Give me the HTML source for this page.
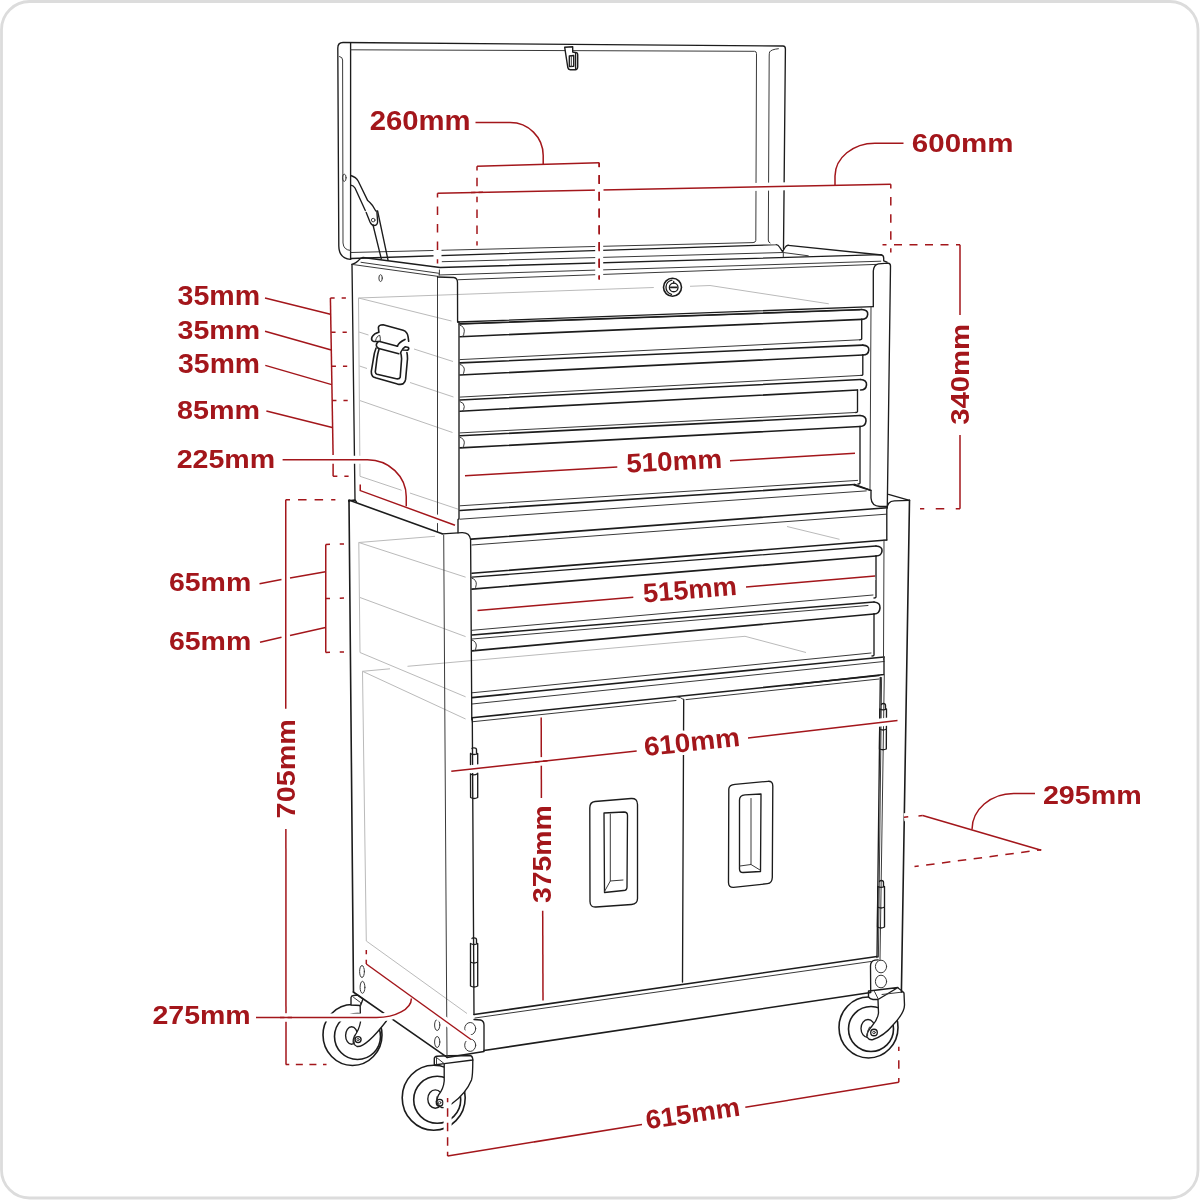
<!DOCTYPE html>
<html><head><meta charset="utf-8"><title>Tool Chest Dimensions</title>
<style>
html,body{margin:0;padding:0;background:#fff;width:1200px;height:1200px;overflow:hidden}
svg{display:block}
.k{stroke:#1c1c1c;stroke-width:1.35;fill:none;stroke-linecap:round;stroke-linejoin:round}
.kb{stroke:#1c1c1c;stroke-width:1.6;fill:none;stroke-linecap:round;stroke-linejoin:round}
.kt{stroke:#3a3a3a;stroke-width:1.0;fill:none;stroke-linecap:round;stroke-linejoin:round}
.kw{stroke:#1c1c1c;stroke-width:1.4;fill:#fff;stroke-linecap:round;stroke-linejoin:round}
.g{stroke:#bababa;stroke-width:1.0;fill:none}
.r{stroke:#a3161b;stroke-width:1.5;fill:none}
.rd{stroke:#a3161b;stroke-width:1.5;fill:none;stroke-dasharray:11 6}
.t{font-family:"Liberation Sans",sans-serif;font-weight:bold;font-size:26.6px;fill:#a3161b}
</style></head><body>
<svg width="1200" height="1200" viewBox="0 0 1200 1200">
<rect x="1.5" y="1.5" width="1196.5" height="1196.5" rx="28" ry="28" fill="#fff" stroke="#dcdcdc" stroke-width="2.8"/>
<!-- 05_casters.svg -->
<!-- rear-left caster -->
<ellipse class="kb" cx="352.5" cy="1035" rx="29.5" ry="30.5"/>
<circle class="kb" cx="357.5" cy="1036.5" r="23"/>
<ellipse class="k" cx="351.6" cy="1035.5" rx="6" ry="8.8"/>
<path d="M360,1000 L360,1022 Q359,1030 354.5,1036 Q351,1044 357,1046.5 Q366,1047.5 386.4,1021 L393,1016 L372,1002 Z" fill="#fff" stroke="none"/>
<path class="k" d="M360.2,1006 L360.5,1022 Q359,1030 354.5,1036 Q351,1044 357,1046.5 Q366,1047.5 386.4,1021 L388.3,1015.5"/>
<path class="kt" d="M354.6,1044.5 Q352.8,1040 355,1035.5"/>
<circle class="k" cx="358.1" cy="1039.6" r="3"/>
<circle class="kt" cx="358.1" cy="1039.6" r="1.2"/>
<path class="kw" d="M351,1005 L351,997.5 Q351.3,995.7 353.5,995.5 L357.5,995 L363,999 L360.5,1005.5 Z"/>
<path class="kt" d="M353.5,997.3 L360.5,1002.5 L360.5,1005.5"/>
<!-- front-left caster -->
<ellipse class="kb" cx="433.7" cy="1097.7" rx="31.5" ry="32.5"/>
<circle class="kb" cx="437.2" cy="1099.7" r="23.5"/>
<ellipse class="k" cx="435.3" cy="1099" rx="7.5" ry="9.2"/>
<path d="M444.2,1058 L444.2,1081 Q443.5,1089 438.5,1095 Q434,1104 441.5,1107.5 Q446.5,1108.5 451.8,1103.8 Q466,1093.5 471.5,1080 Q472.8,1076 472.8,1058 Z" fill="#fff" stroke="none"/>
<path class="k" d="M444.2,1063.6 L444.2,1081 Q443.5,1089 438.5,1095 Q434,1104 441.5,1107.5 Q446.5,1108.5 451.8,1103.8 Q466,1093.5 471.5,1080 Q472.8,1076 472.8,1060"/>
<path class="kt" d="M437.5,1106 Q435,1102 437,1096.5"/>
<circle class="k" cx="439.6" cy="1102.7" r="3.3"/>
<circle class="kt" cx="439.6" cy="1102.7" r="1.3"/>
<path class="kw" d="M434.3,1065 L434.3,1058.5 Q434.5,1056.5 437,1056.2 L447,1055.8 L470,1055.5 Q472.8,1056 472.8,1060 L444.2,1063.6 Z"/>
<path class="kt" d="M436.5,1057.5 L444.2,1063.6 M436.5,1064 L436.5,1058"/>
<!-- right caster -->
<ellipse class="kb" cx="868.5" cy="1027.5" rx="29.5" ry="30.5"/>
<circle class="kb" cx="871" cy="1029" r="22.5"/>
<ellipse class="k" cx="868" cy="1028.5" rx="7" ry="9"/>
<path d="M878,997 L878.5,1013 Q877.5,1020 872,1026 Q866,1033 867,1037 Q869,1040.5 873,1039.5 Q884,1036 893,1025 Q904.5,1013 904.5,1005 L904,993 Q902,990.5 898,988 Z" fill="#fff" stroke="none"/>
<path class="k" d="M878,999.5 L878.5,1013 Q877.5,1020 872,1026 Q866,1033 867,1037 Q869,1040.5 873,1039.5 Q884,1036 893,1025 Q904.5,1013 904.5,1005 L904,993 Q902,990.5 898,988"/>
<path class="kt" d="M867.5,1036 Q866.5,1031 869.5,1027"/>
<circle class="k" cx="874" cy="1032.5" r="3.3"/>
<circle class="kt" cx="874" cy="1032.5" r="1.3"/>
<path class="kw" d="M868.5,991 L868.5,997 Q870,999 873,999.5 L878,999.5 L898,987.5 L869,991 Z"/>
<path class="kt" d="M874.5,991.5 L878.5,999.5 M882,994.5 L903,992"/>

<!-- 10_lid.svg -->
<path class="k" d="M350.6,259.4 Q339,258.5 338.8,246 L337.8,48 Q337.8,42.5 343,42.5 L783,46 Q785.4,46.1 785.4,49 L783.5,249"/>
<line class="k" x1="350.6" y1="43" x2="350.6" y2="259.4"/>
<path class="kt" d="M339.5,56.5 Q342.6,57 342.6,60 L343,243 Q343.5,250 350.6,250.5"/>
<path class="kt" d="M350.6,49.8 L754.5,51.3 Q756.5,51.4 756.5,53.5 L755.8,240.5 Q755.6,242.5 753,242.6 L351.2,252.5"/>
<path class="kt" d="M778.4,48.7 Q771,49.5 769.6,52 Q769.2,53.5 769.2,56 L768.3,240 Q768.3,242.5 770,243"/>
<path class="k" d="M351,258.5 L775.8,244.7 Q778,244.5 779.5,247 L782.5,251.7 L785,247.5 Q786.3,245.2 788.3,245.3"/>
<ellipse class="kt" cx="344.3" cy="177.8" rx="1.8" ry="3.6"/>
<path class="k" d="M350.7,175.5 Q356,177 358.3,181.3 L367.7,200.6 Q370.5,203 372.3,205.2 L375.8,211"/>
<path class="k" d="M350.7,185.1 Q353.5,185.5 355,188 L365.3,210.5"/>
<path class="k" d="M366.2,212.5 L370,222 Q371.5,225.5 374.5,225.5 Q377.8,225 377.6,221 L376.8,211"/>
<circle class="kt" cx="373.2" cy="220.1" r="1.8"/>
<line class="k" x1="373" y1="225" x2="381.3" y2="258.8"/>
<line class="k" x1="377.6" y1="211" x2="388" y2="260"/>

<!-- 12_latch.svg -->
<path class="kw" d="M564.7,47.3 L572.7,46.7 L572.7,52 L576.5,52.7 Q577.7,53 577.7,54.5 L577.7,67 Q577.5,69.7 575.3,69.7 L570.3,69.7 Q568.2,69.5 567.8,67.5 Z"/>
<path class="k" d="M569.3,56 L573.7,55.5 L573.7,66.3 L569.3,66.5 Z M575.6,53.5 L575.6,68.5"/>
<path class="kt" d="M571.3,56 L571.3,66.4"/>

<!-- 15_gray.svg -->
<path class="g" d="M358.5,298 L360,476.3 L458.5,509.3"/>
<path class="g" d="M358.5,298 L653.8,287.5 M690,286.3 L710,285.5 L828.8,303.8"/>
<path class="g" d="M358.5,298 L451.5,321"/>
<path class="g" d="M359,332 L368.5,335 M414,349 L453,361.5"/>
<path class="g" d="M359.5,366 L367,368.5 M410,382.5 L453.5,397"/>
<path class="g" d="M360,400.6 L452.5,432.5"/>
<path class="g" d="M358.8,542.5 L435,536.3"/>
<path class="g" d="M358.8,542.5 L360,652.5"/>
<path class="g" d="M358.8,542.5 L465.6,577.2"/>
<path class="g" d="M360,597.5 L465.6,636.6"/>
<path class="g" d="M360,652.5 L465.6,696.8"/>
<path class="g" d="M362.5,671.3 L390,668.8 M407.5,666.3 L745,636.3 L806,652.5"/>
<path class="g" d="M362.5,671.3 L366.3,941 L467,1013.5"/>
<path class="g" d="M362.5,671.3 L465.6,719"/>
<path class="g" d="M787,526.5 L839.5,539.3"/>

<!-- 20_topchest.svg -->
<!-- top surface -->
<path class="k" d="M352,264.4 Q356,263 358,261 Q360,258 363,257.5 L440,267.5 L880.8,254.7 Q883.7,255.3 883.7,258 L883.7,260.8 L887,262.2"/>
<path class="k" d="M788.3,245.3 L881.7,255"/>
<path class="kt" d="M442,261.7 L783.3,252.5 L808.3,255.8"/>
<line class="kt" x1="783.3" y1="251.7" x2="783.3" y2="256.7"/>
<path class="kt" d="M352,264.4 L437.5,276.3"/>
<path class="kt" d="M361,262.3 L439,273.3"/>
<line class="kt" x1="439.4" y1="270" x2="439.4" y2="275"/>
<line class="kt" x1="438.7" y1="275" x2="880.8" y2="261.2"/>
<!-- side panel -->
<line class="k" x1="352" y1="264.4" x2="355" y2="500"/>
<line class="kt" x1="437.5" y1="276.3" x2="437.5" y2="531.5"/>
<ellipse class="kt" cx="380.6" cy="278.1" rx="1.7" ry="3.4"/>
<!-- left front column -->
<path class="k" d="M437.5,277 L453.75,277.5 Q457.5,278 457.5,282.5 L457.6,321.75 L459,322 L459,518.7 L458,519.5 L458,532.7"/>
<!-- lock panel -->
<line class="kt" x1="458" y1="279.75" x2="876" y2="264.4"/>
<line class="k" x1="457.6" y1="322" x2="873.3" y2="306.6"/>
<line class="kt" x1="459" y1="324.3" x2="860" y2="310"/>
<circle class="kb" cx="672.5" cy="287.2" r="9"/>
<path class="k" d="M672,280.2 A7.2,7.2 0 0,0 671.5,294.3"/>
<circle class="k" cx="673.7" cy="287.4" r="4.3"/>
<path class="kb" d="M670.8,287.4 L676.6,287.4"/>
<path class="k" d="M673.7,281.4 L673.7,283"/>
<!-- right column -->
<path class="k" d="M873.3,306.6 L873.3,271 Q873.8,264.5 878.5,263.8 L888,263.2 Q890.5,263.5 890.5,266 L887.3,506.5 L880,506.5 Q871.5,506 871,498 L871,490.5 L854,485"/>
<line class="kt" x1="871" y1="307" x2="870" y2="489"/>

<!-- 25_handle.svg -->
<path class="kb" d="M378.8,331.9 L378.4,327.5 Q378.6,324.8 383.1,324.7 L403.1,330.3 Q407.5,331.8 408.1,336.9 L408.7,341.3"/>
<path class="kb" d="M378.8,332.2 Q374.2,333.4 372.2,336.6 Q370.8,339.5 372.5,340.8 Q374,341.8 377.5,341.5"/>
<path class="kt" d="M375.6,340.5 Q376.5,336 379.8,335.3 Q380.6,338 380.3,341.2"/>
<path class="kb" d="M378.8,341.3 L397.5,346.3 M378.8,348.4 L398.8,353.8 M378.8,341.3 Q375.5,343.5 376.6,346.4 Q377.3,348.2 378.8,348.4"/>
<path class="kb" d="M397.3,346.3 Q398.8,342.2 405,339.4 M400.8,352.3 Q402,348.5 405.3,346.7 L408.5,347.6 Q409.3,349.2 407.5,350.2 L402.8,350"/>
<path class="kb" d="M376,348.2 Q374,353 373.4,358.8 L371.3,371.3 Q371.3,375.8 373.5,377 L376.3,378.1 L397.5,384.1 Q401.5,384.8 403.1,383.8 Q405.3,382 405.6,379.4 L407.5,358.8 Q407.4,354 406.9,352.5"/>
<path class="kb" d="M379,349.2 Q377.7,353.5 376.9,358.8 L375.3,371.9 Q375.5,373.8 377,374.3 L396.3,378.8 Q399.5,379.3 400.2,377.2 L401.6,358.8 Q401.5,355 400.6,352.8"/>
<ellipse class="kt" cx="362" cy="971.5" rx="2.4" ry="6"/>
<ellipse class="kt" cx="362.5" cy="987.3" rx="2.4" ry="6"/>
<ellipse class="kt" cx="437.2" cy="1025" rx="2.6" ry="5.5"/>
<ellipse class="kt" cx="437.2" cy="1042" rx="2.6" ry="5.5"/>

<!-- 30_drawers.svg -->
<line class="kb" x1="460.0" y1="323.7" x2="861.7" y2="309.5"/>
<path class="kb" d="M861.7,309.5 Q868.2,310.0 867.7,314.4 Q867.2,319.4 861.7,319.4"/>
<line class="kb" x1="460.0" y1="336.7" x2="861.7" y2="319.4"/>
<path class="k" d="M861.7,319.4 L861.7,337.8 Q862.2,339.8 859.7,339.8"/>
<line class="kt" x1="460.0" y1="359.6" x2="859.7" y2="339.8"/>
<path class="kt" d="M460.0,325.2 Q464.5,326.7 464.3,331.2 Q464.0,335.7 462.5,336.7"/>
<line class="kb" x1="460.0" y1="362.9" x2="862.8" y2="345.1"/>
<path class="kb" d="M862.8,345.1 Q869.3,345.6 868.8,350.1 Q868.3,355.0 862.8,355.0"/>
<line class="kb" x1="460.0" y1="375.0" x2="862.8" y2="355.0"/>
<path class="k" d="M862.8,355.0 L862.8,373.4 Q863.3,375.4 860.8,375.4"/>
<line class="kt" x1="460.0" y1="397.1" x2="860.8" y2="375.4"/>
<path class="kt" d="M460.0,364.4 Q464.5,365.9 464.3,369.9 Q464.0,374.0 462.5,375.0"/>
<line class="kb" x1="460.0" y1="400.0" x2="860.5" y2="379.5"/>
<path class="kb" d="M860.5,379.5 Q867.0,380.0 866.5,384.8 Q866.0,390.0 860.5,390.0"/>
<line class="kb" x1="460.0" y1="411.2" x2="857.5" y2="390.0"/>
<path class="k" d="M857.5,390.0 L857.5,410.5 Q858.0,412.5 855.5,412.5"/>
<line class="kt" x1="460.0" y1="432.9" x2="855.5" y2="412.5"/>
<path class="kt" d="M460.0,401.5 Q464.5,403.0 464.3,406.6 Q464.0,410.2 462.5,411.2"/>
<line class="kb" x1="460.0" y1="435.8" x2="860.0" y2="415.5"/>
<path class="kb" d="M860.0,415.5 Q866.5,416.0 866.0,421.0 Q865.5,426.5 860.0,426.5"/>
<line class="kb" x1="460.0" y1="447.9" x2="860.0" y2="426.5"/>
<path class="k" d="M860.0,426.5 L860.0,482.0 Q860.5,484.0 858.0,484.0"/>
<path class="kt" d="M460.0,437.3 Q464.5,438.8 464.3,442.9 Q464.0,446.9 462.5,447.9"/>
<line class="kb" x1="460.0" y1="510.5" x2="854.7" y2="484.5"/>
<line class="k" x1="854.7" y1="484.5" x2="871.0" y2="490.3"/>
<line class="kt" x1="460.0" y1="519.2" x2="866.3" y2="490.9"/>
<line class="kt" x1="460.0" y1="505.8" x2="857.6" y2="480.4"/>
<line class="kb" x1="471.3" y1="539.1" x2="887.3" y2="507.8"/>
<line class="kt" x1="472.0" y1="545.0" x2="886.2" y2="514.2"/>
<line class="kb" x1="472.0" y1="573.3" x2="886.7" y2="540.0"/>
<line class="k" x1="472.0" y1="577.2" x2="876.0" y2="546.0"/>
<path class="kb" d="M876.0,546.0 Q882.5,546.5 882.0,551.0 Q881.5,556.0 876.0,556.0"/>
<line class="kb" x1="472.0" y1="589.1" x2="876.0" y2="556.0"/>
<path class="k" d="M876.0,556.0 L876.0,596.0 Q876.5,598.0 874.0,598.0"/>
<line class="kt" x1="472.0" y1="630.3" x2="873.0" y2="595.0"/>
<path class="kt" d="M472.0,578.2 Q476.5,579.7 476.3,584.2 Q476.0,588.1 474.5,589.1"/>
<line class="kb" x1="472.0" y1="635.0" x2="874.0" y2="602.0"/>
<line class="kt" x1="472.0" y1="639.0" x2="868.0" y2="605.5"/>
<path class="kb" d="M874.0,602.0 Q880.5,602.5 880.0,608.0 Q879.5,614.0 874.0,614.0"/>
<line class="kb" x1="472.0" y1="650.9" x2="874.0" y2="614.0"/>
<path class="k" d="M874.0,614.0 L874.0,654.0 Q874.5,656.0 872.0,656.0"/>
<line class="kt" x1="472.0" y1="692.8" x2="871.0" y2="653.0"/>
<path class="kt" d="M472.0,640.0 Q476.5,641.5 476.3,646.0 Q476.0,649.9 474.5,650.9"/>
<line class="kb" x1="472.0" y1="697.6" x2="884.0" y2="657.0"/>
<line class="kt" x1="472.0" y1="704.0" x2="884.0" y2="661.5"/>
<path class="k" d="M884,657 L884,674.5 L790,685"/>
<line class="kb" x1="472.0" y1="717.8" x2="879.0" y2="675.5"/>
<line class="kt" x1="472.0" y1="721.8" x2="676.0" y2="700.5"/>
<line class="kt" x1="686.0" y1="699.6" x2="879.0" y2="679.0"/>

<!-- 40_lowercab.svg -->
<!-- side panel -->
<path class="kb" d="M349,501.5 L349.5,500.3 L442.2,533.8"/>
<path class="k" d="M348.6,500.6 L355,500 L356.5,502"/>

<line class="kb" x1="349" y1="500" x2="353.5" y2="992"/>
<line class="kb" x1="353.3" y1="992" x2="447.2" y2="1057.3"/>
<line class="kt" x1="443.7" y1="535" x2="447" y2="1057"/>
<!-- left front column -->
<path class="k" d="M442.2,533.8 L462,532.7 Q469.5,532.5 470.6,539.5 L471.8,720"/>
<!-- right front column -->
<path class="k" d="M886.8,540 L886.8,510 Q887,501 894.3,500.8 L909.5,500.3"/>
<line class="kb" x1="909.5" y1="500.3" x2="901.4" y2="992"/>
<line class="k" x1="888.5" y1="494.4" x2="909.5" y2="500.3"/>
<line class="kt" x1="884" y1="540" x2="883.5" y2="660"/>
<line class="kt" x1="884.3" y1="675" x2="880" y2="960"/>
<!-- doors -->
<line class="k" x1="472.3" y1="718" x2="474" y2="1014.5"/>
<line class="k" x1="683.7" y1="699.3" x2="682.5" y2="982"/>
<path class="kt" d="M676,696.7 Q681,697 683.7,699.6"/>
<path class="k" d="M880.3,677.5 L877,957.5"/>
<line class="kt" x1="881.6" y1="677.5" x2="878.4" y2="957"/>
<!-- door bottoms / base rail -->
<line class="kb" x1="474" y1="1014.5" x2="877" y2="956.5"/>
<line class="kt" x1="475" y1="1018" x2="871" y2="961.5"/>
<line class="kb" x1="484" y1="1050.5" x2="870.7" y2="992.5"/>
<!-- left corner post -->
<path class="k" d="M474,1019.5 L480.5,1020 Q484,1021 484,1025 L484,1051.5 L447,1057.5"/>
<ellipse class="kt" cx="470.2" cy="1028.7" rx="5.5" ry="6.2"/>
<ellipse class="kt" cx="470.2" cy="1045.2" rx="5.5" ry="6.2"/>
<!-- left door hinges -->
<path class="k" d="M472,748.5 Q472,747.8 474,747.8 Q476.3,747.8 476.5,749.5 L476.5,753 M470.5,753.5 Q474,755.5 477.7,753.5 L477.7,764.5 M470.5,753.5 L470.5,765.5 M470.5,773 L470.6,797.5 Q474,799.5 477.7,797.5 L477.7,773 M470.5,774 Q474,776 477.7,773.5"/>
<path class="k" d="M472,938.5 Q472,937.8 474,937.8 Q476.3,937.8 476.5,939.5 L476.5,943 M470.5,943.5 Q474,945.5 477.7,943.5 L477.7,986 Q474,988 470.5,986 Z M470.5,962 Q474,964 477.7,962"/>
<!-- right door hinges -->
<path class="k" d="M881.5,704.5 Q881.5,703.5 883.3,703.5 Q885.5,703.5 885.5,705.5 L885.5,708.5 M879.8,709 Q883,710.8 886.5,709 L886.3,749 Q883,750.5 879.5,749 Z M879.7,729 Q883,731 886.4,729"/>
<path class="k" d="M879.5,881.5 Q879.5,880.5 881.3,880.5 Q883.5,880.5 883.5,882.5 L883.5,886 M877.8,886.5 Q881,888.3 884.5,886.5 L884.5,927 Q881,929 877.5,927 Z M877.8,907 Q881,909 884.5,907"/>
<!-- right corner post -->
<path class="k" d="M878,959.8 L875,960.2 Q870.5,961 870.5,966 L870.7,991.5"/>
<ellipse class="kt" cx="881" cy="966.5" rx="5.6" ry="6.3"/>
<ellipse class="kt" cx="881" cy="981.5" rx="5.6" ry="6.3"/>
<!-- door handles -->
<path class="k" d="M595,801.5 L631,798.5 Q637.5,798 637.5,804.5 L637.5,898.5 Q637.5,904 631.5,904.5 L596,907 Q590,907.5 590,901.5 L589.8,808 Q589.8,802 595,801.5 Z"/>
<path class="k" d="M604,813 L624,812 Q627.5,812 627.5,815.5 L627,887 Q627,890.5 623.5,890.5 L604.5,892.5 Z"/>
<path class="kt" d="M610.3,814 L610.3,881 L604.5,891.5 M610.3,881 L623,880"/>
<path class="k" d="M735,784.3 L768,781.3 Q772.8,781 772.8,786 L772.3,877.5 Q772,883.2 767.5,883.7 L733.5,887.3 Q728.5,887.5 728.5,882.5 L728.8,789 Q729,784.8 735,784.3 Z"/>
<path class="k" d="M745,794.8 L761,794 L760.5,871.5 L743,872.5 Q739.5,872.5 739.5,869 L739.5,800 Q739.5,795.2 745,794.8 Z"/>
<path class="kt" d="M751,798.5 L751,864.5 L740,866 M751,864.5 L760,870"/>

<!-- 90_red.svg -->
<g>
<text class="t" transform="translate(370.80,129.50) rotate(0.0) scale(1.1010,1.0046) translate(-1.02,0)" stroke="#fff" stroke-width="5.4" stroke-linejoin="round">260mm</text>
<path d="M475.5,122.5 L510,122.5 A33,33 0 0,1 543.2,155.5 L543.2,164.4" stroke="#fff" stroke-width="8" fill="none" stroke-linecap="butt"/>
<path d="M477,166.2 L599.2,162.8" stroke="#fff" stroke-width="8" fill="none" stroke-linecap="butt"/>
<path d="M477,166.2 L477,245.5" stroke="#fff" stroke-width="8" fill="none"/>
<path d="M599.2,162.8 L599.2,279.5" stroke="#fff" stroke-width="8" fill="none"/>
<text class="t" transform="translate(913.00,151.60) rotate(0.0) scale(1.1100,0.9992) translate(-1.02,0)" stroke="#fff" stroke-width="5.4" stroke-linejoin="round">600mm</text>
<path d="M903.5,143.2 L875,143.2 A40,33 0 0,0 835,176 L835,185.5" stroke="#fff" stroke-width="8" fill="none" stroke-linecap="butt"/>
<path d="M437.5,193.2 L890.8,184.3" stroke="#fff" stroke-width="8" fill="none" stroke-linecap="butt"/>
<path d="M437.5,193.2 L437.5,263.4" stroke="#fff" stroke-width="8" fill="none"/>
<path d="M890.8,184.3 L890.8,252.5" stroke="#fff" stroke-width="8" fill="none"/>
<path d="M882.5,244.8 L960,244.8" stroke="#fff" stroke-width="8" fill="none"/>
<path d="M960,244.8 L960,315" stroke="#fff" stroke-width="8" fill="none" stroke-linecap="butt"/>
<text class="t" transform="translate(968.75,423.75) rotate(-90) scale(1.1027,0.9964) translate(-1.02,0)" stroke="#fff" stroke-width="5.4" stroke-linejoin="round">340mm</text>
<path d="M960,435 L960,508.8" stroke="#fff" stroke-width="8" fill="none" stroke-linecap="butt"/>
<path d="M920,508.8 L960,508.8" stroke="#fff" stroke-width="8" fill="none"/>
<text class="t" transform="translate(178.70,304.50) rotate(0.0) scale(1.0738,1.0046) translate(-1.02,0)" stroke="#fff" stroke-width="5.6" stroke-linejoin="round">35mm</text>
<text class="t" transform="translate(178.70,339.10) rotate(0.0) scale(1.0738,0.9937) translate(-1.02,0)" stroke="#fff" stroke-width="5.6" stroke-linejoin="round">35mm</text>
<text class="t" transform="translate(179.20,373.20) rotate(0.0) scale(1.0658,1.0155) translate(-1.02,0)" stroke="#fff" stroke-width="5.6" stroke-linejoin="round">35mm</text>
<text class="t" transform="translate(178.10,418.60) rotate(0.0) scale(1.0805,0.9992) translate(-1.02,0)" stroke="#fff" stroke-width="5.6" stroke-linejoin="round">85mm</text>
<text class="t" transform="translate(177.80,468.30) rotate(0.0) scale(1.0741,0.9883) translate(-1.02,0)" stroke="#fff" stroke-width="5.6" stroke-linejoin="round">225mm</text>
<path d="M265,298 L330.4,314.2" stroke="#fff" stroke-width="8" fill="none" stroke-linecap="butt"/>
<path d="M265,331.3 L331.25,350" stroke="#fff" stroke-width="8" fill="none" stroke-linecap="butt"/>
<path d="M265.3,365.4 L331.7,384.6" stroke="#fff" stroke-width="8" fill="none" stroke-linecap="butt"/>
<path d="M266.4,411.1 L332.25,427.5" stroke="#fff" stroke-width="8" fill="none" stroke-linecap="butt"/>
<path d="M330.4,297.9 L333.1,455" stroke="#fff" stroke-width="8" fill="none" stroke-linecap="butt"/>
<path d="M282.6,459.75 L367.5,459.75 A38.75,37 0 0,1 406.25,496.75 L406.25,506.3" stroke="#fff" stroke-width="8" fill="none" stroke-linecap="butt"/>
<path d="M360.25,484.4 L360.25,490.6 L455,525.3" stroke="#fff" stroke-width="8" fill="none" stroke-linecap="butt"/>
<text class="t" transform="translate(627.70,472.40) rotate(-2.7) scale(1.0460,1.0000) translate(-1.02,0)" stroke="#fff" stroke-width="5.7" stroke-linejoin="round">510mm</text>
<path d="M465,475.8 L617.3,467" stroke="#fff" stroke-width="8" fill="none" stroke-linecap="butt"/>
<path d="M730,460.7 L855,453.3" stroke="#fff" stroke-width="8" fill="none" stroke-linecap="butt"/>
<text class="t" transform="translate(644.70,602.40) rotate(-4.65) scale(1.0258,1.0000) translate(-1.02,0)" stroke="#fff" stroke-width="5.8" stroke-linejoin="round">515mm</text>
<path d="M477.5,610.4 L633.3,597.3" stroke="#fff" stroke-width="8" fill="none" stroke-linecap="butt"/>
<path d="M746,587.1 L875,576" stroke="#fff" stroke-width="8" fill="none" stroke-linecap="butt"/>
<text class="t" transform="translate(646.00,756.00) rotate(-6.2) scale(1.0499,1.0000) translate(-1.02,0)" stroke="#fff" stroke-width="5.7" stroke-linejoin="round">610mm</text>
<path d="M451.3,771.3 L636.7,751" stroke="#fff" stroke-width="8" fill="none" stroke-linecap="butt"/>
<path d="M748,738 L897.5,720.5" stroke="#fff" stroke-width="8" fill="none" stroke-linecap="butt"/>
<text class="t" transform="translate(170.00,590.50) rotate(0.0) scale(1.0712,0.9937) translate(-1.02,0)" stroke="#fff" stroke-width="5.6" stroke-linejoin="round">65mm</text>
<text class="t" transform="translate(170.00,649.50) rotate(0.0) scale(1.0712,0.9937) translate(-1.02,0)" stroke="#fff" stroke-width="5.6" stroke-linejoin="round">65mm</text>
<path d="M259.5,583.8 L281.5,579.6" stroke="#fff" stroke-width="8" fill="none" stroke-linecap="butt"/>
<path d="M290,578 L325.5,571.8" stroke="#fff" stroke-width="8" fill="none" stroke-linecap="butt"/>
<path d="M260,642.2 L281.5,637.3" stroke="#fff" stroke-width="8" fill="none" stroke-linecap="butt"/>
<path d="M290,635.4 L325.5,627.4" stroke="#fff" stroke-width="8" fill="none" stroke-linecap="butt"/>
<path d="M325.75,544.5 L325.75,652.5" stroke="#fff" stroke-width="8" fill="none" stroke-linecap="butt"/>
<path d="M285.75,499.75 L335.4,499.75" stroke="#fff" stroke-width="8" fill="none"/>
<path d="M285.75,499.75 L285.75,708.75" stroke="#fff" stroke-width="8" fill="none" stroke-linecap="butt"/>
<text class="t" transform="translate(294.90,817.30) rotate(-90) scale(1.0842,0.9829) translate(-1.02,0)" stroke="#fff" stroke-width="5.5" stroke-linejoin="round">705mm</text>
<path d="M285.9,829 L286,1064.5" stroke="#fff" stroke-width="8" fill="none" stroke-linecap="butt"/>
<path d="M285.75,1064.5 L326.5,1064.5" stroke="#fff" stroke-width="8" fill="none"/>
<path d="M541.2,717.5 L541.4,798" stroke="#fff" stroke-width="8" fill="none" stroke-linecap="butt"/>
<text class="t" transform="translate(550.90,901.90) rotate(-90) scale(1.0651,0.9829) translate(-1.02,0)" stroke="#fff" stroke-width="5.6" stroke-linejoin="round">375mm</text>
<path d="M542.7,910.7 L543,1000.5" stroke="#fff" stroke-width="8" fill="none" stroke-linecap="butt"/>
<text class="t" transform="translate(153.50,1024.00) rotate(0.0) scale(1.0729,0.9883) translate(-1.02,0)" stroke="#fff" stroke-width="5.6" stroke-linejoin="round">275mm</text>
<path d="M256,1017.5 L376.4,1017.5 A35,19.1 0 0,0 411.4,998.4" stroke="#fff" stroke-width="8" fill="none" stroke-linecap="butt"/>
<path d="M366.3,964 L471,1039.5" stroke="#fff" stroke-width="8" fill="none" stroke-linecap="butt"/>
<text class="t" transform="translate(1044.00,803.80) rotate(0.0) scale(1.0786,0.9937) translate(-1.02,0)" stroke="#fff" stroke-width="5.6" stroke-linejoin="round">295mm</text>
<path d="M1035,793.5 L1013.7,793.5 A41.7,36 0 0,0 972,829.5" stroke="#fff" stroke-width="8" fill="none" stroke-linecap="butt"/>
<path d="M904,817.2 L922.7,815.5" stroke="#fff" stroke-width="8" fill="none"/>
<path d="M922.7,815.5 L1041.2,850.3" stroke="#fff" stroke-width="8" fill="none" stroke-linecap="butt"/>
<path d="M914.5,866.6 L1041.2,849.8" stroke="#fff" stroke-width="8" fill="none"/>
<path d="M447.6,1098 L447.6,1156" stroke="#fff" stroke-width="8" fill="none"/>
<path d="M447.6,1156 L642,1124.4" stroke="#fff" stroke-width="8" fill="none" stroke-linecap="butt"/>
<text class="t" transform="translate(648.00,1129.00) rotate(-8.3) scale(1.0366,1.0000) translate(-1.02,0)" stroke="#fff" stroke-width="5.8" stroke-linejoin="round">615mm</text>
<path d="M745.3,1107.3 L898.8,1082.2" stroke="#fff" stroke-width="8" fill="none" stroke-linecap="butt"/>
<path d="M898.8,1046.7 L898.8,1082.2" stroke="#fff" stroke-width="8" fill="none"/>
</g>
<g opacity="0.999">
<text class="t" transform="translate(370.80,129.50) rotate(0.0) scale(1.1010,1.0046) translate(-1.02,0)">260mm</text>
<path class="r" d="M475.5,122.5 L510,122.5 A33,33 0 0,1 543.2,155.5 L543.2,164.4"/>
<path class="r" d="M477,166.2 L599.2,162.8"/>
<path class="r" stroke-dasharray="8.50 7.36" stroke-dashoffset="4.25" d="M477,166.2 L477,245.5"/>
<path class="r" stroke-dasharray="8.50 8.17" stroke-dashoffset="4.25" d="M599.2,162.8 L599.2,279.5"/>
<text class="t" transform="translate(913.00,151.60) rotate(0.0) scale(1.1100,0.9992) translate(-1.02,0)">600mm</text>
<path class="r" d="M903.5,143.2 L875,143.2 A40,33 0 0,0 835,176 L835,185.5"/>
<path class="r" d="M437.5,193.2 L890.8,184.3"/>
<path class="r" stroke-dasharray="8.50 9.05" stroke-dashoffset="4.25" d="M437.5,193.2 L437.5,263.4"/>
<path class="r" stroke-dasharray="8.50 8.55" stroke-dashoffset="4.25" d="M890.8,184.3 L890.8,252.5"/>
<path class="r" stroke-dasharray="8.00 7.50" stroke-dashoffset="4.00" d="M882.5,244.8 L960,244.8"/>
<path class="r" d="M960,244.8 L960,315"/>
<text class="t" transform="translate(968.75,423.75) rotate(-90) scale(1.1027,0.9964) translate(-1.02,0)">340mm</text>
<path class="r" d="M960,435 L960,508.8"/>
<path class="r" stroke-dasharray="8.50 11.50" stroke-dashoffset="4.25" d="M920,508.8 L960,508.8"/>
<text class="t" transform="translate(178.70,304.50) rotate(0.0) scale(1.0738,1.0046) translate(-1.02,0)">35mm</text>
<text class="t" transform="translate(178.70,339.10) rotate(0.0) scale(1.0738,0.9937) translate(-1.02,0)">35mm</text>
<text class="t" transform="translate(179.20,373.20) rotate(0.0) scale(1.0658,1.0155) translate(-1.02,0)">35mm</text>
<text class="t" transform="translate(178.10,418.60) rotate(0.0) scale(1.0805,0.9992) translate(-1.02,0)">85mm</text>
<text class="t" transform="translate(177.80,468.30) rotate(0.0) scale(1.0741,0.9883) translate(-1.02,0)">225mm</text>
<path class="r" d="M265,298 L330.4,314.2"/>
<path class="r" d="M265,331.3 L331.25,350"/>
<path class="r" d="M265.3,365.4 L331.7,384.6"/>
<path class="r" d="M266.4,411.1 L332.25,427.5"/>
<path class="r" d="M330.4,297.9 L333.1,455"/>
<path class="r" d="M333.1,463.8 L333.1,476.3"/>
<path class="r" stroke-dasharray="8.50 7.00" stroke-dashoffset="4.25" d="M330.4,297.9 L345.9,297.9"/>
<path class="r" stroke-dasharray="8.50 7.00" stroke-dashoffset="4.25" d="M331.3,332.3 L346.8,332.3"/>
<path class="r" stroke-dasharray="8.50 7.00" stroke-dashoffset="4.25" d="M331.7,366.3 L347.2,366.3"/>
<path class="r" stroke-dasharray="8.50 7.00" stroke-dashoffset="4.25" d="M332.2,400.6 L347.7,400.6"/>
<path class="r" stroke-dasharray="8.50 7.00" stroke-dashoffset="4.25" d="M333.1,476.3 L348.6,476.3"/>
<path class="r" d="M282.6,459.75 L367.5,459.75 A38.75,37 0 0,1 406.25,496.75 L406.25,506.3"/>
<path class="r" d="M360.25,484.4 L360.25,490.6 L455,525.3"/>
<text class="t" transform="translate(627.70,472.40) rotate(-2.7) scale(1.0460,1.0000) translate(-1.02,0)">510mm</text>
<path class="r" d="M465,475.8 L617.3,467"/>
<path class="r" d="M730,460.7 L855,453.3"/>
<text class="t" transform="translate(644.70,602.40) rotate(-4.65) scale(1.0258,1.0000) translate(-1.02,0)">515mm</text>
<path class="r" d="M477.5,610.4 L633.3,597.3"/>
<path class="r" d="M746,587.1 L875,576"/>
<text class="t" transform="translate(646.00,756.00) rotate(-6.2) scale(1.0499,1.0000) translate(-1.02,0)">610mm</text>
<path class="r" d="M451.3,771.3 L636.7,751"/>
<path class="r" d="M748,738 L897.5,720.5"/>
<text class="t" transform="translate(170.00,590.50) rotate(0.0) scale(1.0712,0.9937) translate(-1.02,0)">65mm</text>
<text class="t" transform="translate(170.00,649.50) rotate(0.0) scale(1.0712,0.9937) translate(-1.02,0)">65mm</text>
<path class="r" d="M259.5,583.8 L281.5,579.6"/>
<path class="r" d="M290,578 L325.5,571.8"/>
<path class="r" d="M260,642.2 L281.5,637.3"/>
<path class="r" d="M290,635.4 L325.5,627.4"/>
<path class="r" d="M325.75,544.5 L325.75,652.5"/>
<path class="r" stroke-dasharray="8.50 9.76" stroke-dashoffset="4.25" d="M325.75,544.5 L344,543.9"/>
<path class="r" stroke-dasharray="8.50 9.76" stroke-dashoffset="4.25" d="M325.75,598.6 L344,598.0"/>
<path class="r" stroke-dasharray="8.50 9.76" stroke-dashoffset="4.25" d="M325.75,652.5 L344,651.9"/>
<path class="r" stroke-dasharray="8.50 8.05" stroke-dashoffset="4.25" d="M285.75,499.75 L335.4,499.75"/>
<path class="r" d="M285.75,499.75 L285.75,708.75"/>
<text class="t" transform="translate(294.90,817.30) rotate(-90) scale(1.0842,0.9829) translate(-1.02,0)">705mm</text>
<path class="r" d="M285.9,829 L286,1064.5"/>
<path class="r" stroke-dasharray="7.00 6.58" stroke-dashoffset="3.50" d="M285.75,1064.5 L326.5,1064.5"/>
<path class="r" d="M541.2,717.5 L541.4,798"/>
<text class="t" transform="translate(550.90,901.90) rotate(-90) scale(1.0651,0.9829) translate(-1.02,0)">375mm</text>
<path class="r" d="M542.7,910.7 L543,1000.5"/>
<text class="t" transform="translate(153.50,1024.00) rotate(0.0) scale(1.0729,0.9883) translate(-1.02,0)">275mm</text>
<path class="r" d="M256,1017.5 L376.4,1017.5 A35,19.1 0 0,0 411.4,998.4"/>
<path class="r" stroke-dasharray="8.50 5.50" stroke-dashoffset="4.25" d="M366.3,950 L366.3,964"/>
<path class="r" d="M366.3,964 L471,1039.5"/>
<text class="t" transform="translate(1044.00,803.80) rotate(0.0) scale(1.0786,0.9937) translate(-1.02,0)">295mm</text>
<path class="r" d="M1035,793.5 L1013.7,793.5 A41.7,36 0 0,0 972,829.5"/>
<path class="r" stroke-dasharray="8.50 10.28" stroke-dashoffset="4.25" d="M904,817.2 L922.7,815.5"/>
<path class="r" d="M922.7,815.5 L1041.2,850.3"/>
<path class="r" stroke-dasharray="8.50 7.48" stroke-dashoffset="4.25" d="M914.5,866.6 L1041.2,849.8"/>
<path class="r" stroke-dasharray="8.50 6.00" stroke-dashoffset="4.25" d="M447.6,1098 L447.6,1156"/>
<path class="r" d="M447.6,1156 L642,1124.4"/>
<text class="t" transform="translate(648.00,1129.00) rotate(-8.3) scale(1.0366,1.0000) translate(-1.02,0)">615mm</text>
<path class="r" d="M745.3,1107.3 L898.8,1082.2"/>
<path class="r" stroke-dasharray="8.50 9.25" stroke-dashoffset="4.25" d="M898.8,1046.7 L898.8,1082.2"/>
<path d="M477.00,188.10 L477.00,196.70" stroke="#fff" stroke-width="3.2" fill="none"/>
<path class="r" d="M471,192.54 L483,192.31"/>
<path d="M594.90,190.08 L603.50,189.92" stroke="#fff" stroke-width="3.2" fill="none"/>
<path class="r" stroke-dasharray="9 7.78" stroke-dashoffset="4.5" d="M599.2,162.8 L599.2,279.5"/>
<path d="M286.00,1013.20 L286.00,1021.80" stroke="#fff" stroke-width="3.2" fill="none"/>
<path class="r" d="M280,1017.5 L292,1017.5"/>
<path d="M541.30,757.10 L541.30,765.70" stroke="#fff" stroke-width="3.2" fill="none"/>
<path class="r" d="M535,762.1 L547.5,760.7"/>
</g>
</svg>
</body></html>
